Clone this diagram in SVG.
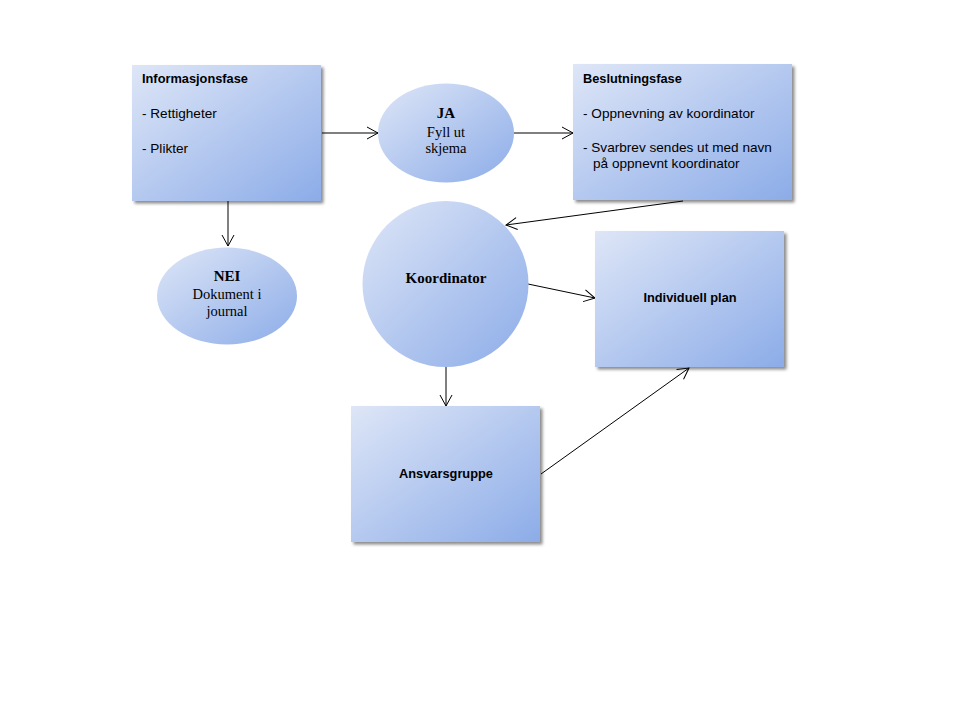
<svg xmlns="http://www.w3.org/2000/svg" width="960" height="720" viewBox="0 0 960 720">
<defs>
<linearGradient id="g" x1="0" y1="0" x2="1" y2="1">
<stop offset="0" stop-color="#dee6f7"/>
<stop offset="1" stop-color="#8cace8"/>
</linearGradient>
<filter id="sh" x="-10%" y="-10%" width="130%" height="130%">
<feDropShadow dx="2.5" dy="2.5" stdDeviation="1.5" flood-color="#000" flood-opacity="0.45"/>
</filter>
<marker id="arr" markerWidth="14" markerHeight="14" refX="12" refY="7" orient="auto" markerUnits="userSpaceOnUse">
<path d="M1,1 L12,7 L1,13" fill="none" stroke="#000" stroke-width="1"/>
</marker>
</defs>
<style>
.box{fill:url(#g);filter:url(#sh)}
.ell{fill:url(#g)}
.sans{font-family:"Liberation Sans",Arial,sans-serif;font-size:13.6px;fill:#000}
.sb{font-family:"Liberation Sans",Arial,sans-serif;font-size:12.8px;font-weight:bold;fill:#000}
.ser{font-family:"Liberation Serif","Times New Roman",serif;font-size:14.5px;fill:#000}
.serb{font-family:"Liberation Serif","Times New Roman",serif;font-size:15px;font-weight:bold;fill:#000}
.c{stroke:#000;stroke-width:1;fill:none;marker-end:url(#arr)}
</style>
<rect width="960" height="720" fill="#fff"/>
<g id="connectors">
<line class="c" x1="322" y1="133" x2="378" y2="133"/>
<line class="c" x1="514" y1="133" x2="573" y2="133"/>
<line class="c" x1="228" y1="201" x2="228" y2="246"/>
<line class="c" x1="683" y1="201" x2="506" y2="225"/>
<line class="c" x1="528" y1="284" x2="595" y2="298"/>
<line class="c" x1="446" y1="367" x2="446" y2="406"/>
<line class="c" x1="541" y1="474" x2="689" y2="368"/>
</g>
<g id="informasjonsfase">
<rect class="box" x="132" y="65" width="189" height="136"/>
<text class="sb" x="142" y="83">Informasjonsfase</text>
<text class="sans" x="142" y="118">- Rettigheter</text>
<text class="sans" x="142" y="153">- Plikter</text>
</g>
<g id="ja">
<ellipse class="ell" cx="446" cy="133" rx="68" ry="49.5"/>
<text class="serb" x="446" y="118" text-anchor="middle">JA</text>
<text class="ser" x="446" y="137" text-anchor="middle">Fyll ut</text>
<text class="ser" x="446" y="153" text-anchor="middle">skjema</text>
</g>
<g id="beslutningsfase">
<rect class="box" x="573" y="64" width="219" height="136"/>
<text class="sb" x="583" y="83">Beslutningsfase</text>
<text class="sans" x="583" y="118">- Oppnevning av koordinator</text>
<text class="sans" x="583" y="152">- Svarbrev sendes ut med navn</text>
<text class="sans" x="593" y="168">på oppnevnt koordinator</text>
</g>
<g id="nei">
<ellipse class="ell" cx="227" cy="296" rx="70" ry="48.5"/>
<text class="serb" x="227" y="281" text-anchor="middle">NEI</text>
<text class="ser" x="227" y="299" text-anchor="middle">Dokument i</text>
<text class="ser" x="227" y="316" text-anchor="middle">journal</text>
</g>
<g id="koordinator">
<circle class="ell" cx="445.5" cy="284" r="83"/>
<text class="serb" x="446" y="283" text-anchor="middle">Koordinator</text>
</g>
<g id="individuell-plan">
<rect class="box" x="595" y="231" width="189" height="136"/>
<text class="sb" x="690" y="302" text-anchor="middle">Individuell plan</text>
</g>
<g id="ansvarsgruppe">
<rect class="box" x="351" y="406" width="189" height="136"/>
<text class="sb" x="446" y="478" text-anchor="middle">Ansvarsgruppe</text>
</g>
</svg>
